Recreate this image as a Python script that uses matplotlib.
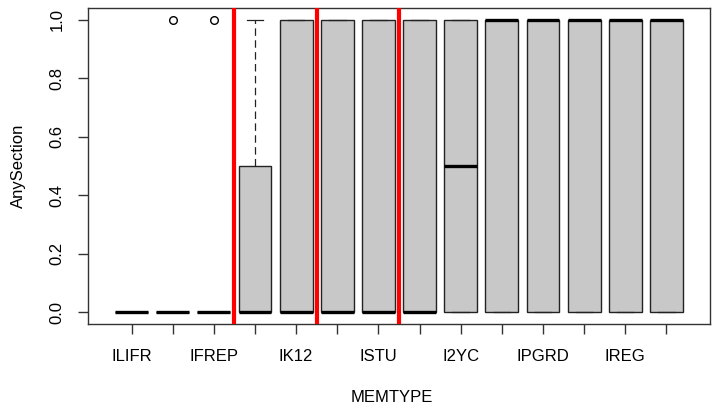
import matplotlib
matplotlib.use("Agg")
import matplotlib.pyplot as plt

# Data
tick_labels = ["ILIFR", "", "IFREP", "", "IK12", "", "ISTU", "", "I2YC", "", "IPGRD", "", "IREG", ""]
q1 = [0, 0, 0, 0, 0, 0, 0, 0, 0, 0, 0, 0, 0, 0]
med = [0, 0, 0, 0, 0, 0, 0, 0, 0.5, 1, 1, 1, 1, 1]
q3 = [0, 0, 0, 0.5, 1, 1, 1, 1, 1, 1, 1, 1, 1, 1]
whislo = [0, 0, 0, 0, 0, 0, 0, 0, 0, 0, 0, 0, 0, 0]
whishi = [0, 0, 0, 1, 1, 1, 1, 1, 1, 1, 1, 1, 1, 1]
fliers = [[], [1], [1], [], [], [], [], [], [], [], [], [], [], []]
vlines = [3.5, 5.5, 7.5]
yticks = [0.0, 0.2, 0.4, 0.6, 0.8, 1.0]

plt.rcParams['font.family'] = ['Liberation Sans', 'DejaVu Sans']
plt.rcParams['font.size'] = 12

fig = plt.figure(figsize=(7.13, 4.08), dpi=100)
ax = fig.add_axes([88/713, 1 - 324/408, (710-88)/713, (324-8)/408])

stats = []
for i in range(len(med)):
    stats.append(dict(q1=q1[i], med=med[i], q3=q3[i], whislo=whislo[i],
                      whishi=whishi[i], fliers=fliers[i]))

n = len(med)
pos = list(range(1, n + 1))
ax.bxp(stats, positions=pos, widths=0.8, patch_artist=True, showcaps=True,
       capwidths=0.4,
       boxprops=dict(facecolor='#C8C8C8', edgecolor='#222222', linewidth=1.0),
       medianprops=dict(color='black', linewidth=2.4, solid_capstyle='butt'),
       whiskerprops=dict(color='#222222', linewidth=0.9, linestyle=(0, (6, 3.5))),
       capprops=dict(color='#222222', linewidth=0.9),
       flierprops=dict(marker='o', markersize=5.5, markerfacecolor='none',
                       markeredgecolor='black', markeredgewidth=1.0, linestyle='none'))

for v in vlines:
    ax.axvline(v, color='#FF0000', linewidth=3.0, zorder=5)

ax.set_xlim(0.5 - 0.04 * n, n + 0.5 + 0.04 * n)
ax.set_ylim(-0.04, 1.04)
ax.set_xticks(pos)
ax.set_xticklabels(tick_labels)
ax.set_yticks(yticks)
ax.set_yticklabels([f"{t:.1f}" for t in yticks], rotation=90, va='center')

for s in ax.spines.values():
    s.set_color('#333333')
    s.set_linewidth(1.0)
ax.tick_params(axis='both', length=7, width=1.0, color='#333333', labelsize=12)
ax.tick_params(axis='x', pad=11)
ax.tick_params(axis='y', pad=10)

ax.set_xlabel("MEMTYPE", fontsize=12)
ax.set_ylabel("AnySection", fontsize=12)
ax.xaxis.set_label_coords((392 - 88) / (710 - 88), -(397 - 324) / (324 - 8))
ax.yaxis.set_label_coords(-(88 - 18) / (710 - 88), (324 - 166) / (324 - 8))
ax.xaxis.label.set_va('center')
ax.yaxis.label.set_va('center')

fig.savefig("out.png", dpi=100)
